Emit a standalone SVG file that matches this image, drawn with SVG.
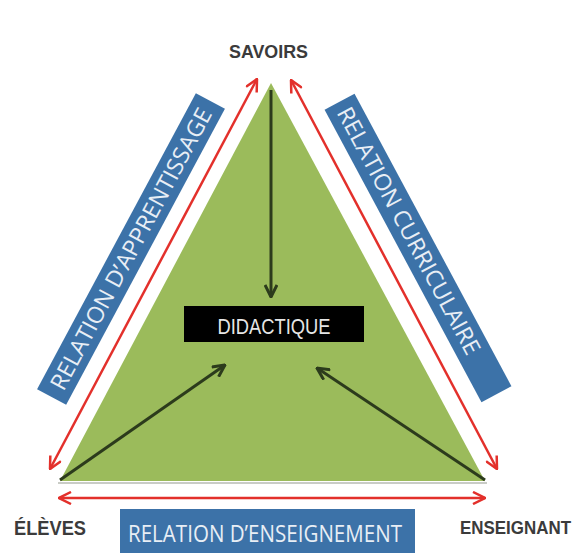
<svg xmlns="http://www.w3.org/2000/svg" width="583" height="553" viewBox="0 0 583 553">
  <style>
    .vertex { font-family: "Liberation Sans", Arial, sans-serif; font-weight: bold; fill: #3b3b3b; }
    .rel-box { fill: #3c72a8; }
    .rel-text { font-family: "Open Sans", "Liberation Sans", sans-serif; fill: #e8eef5; font-size: 23px; }
    .red { stroke: #e3302b; stroke-width: 2.5; fill: none; }
    .dark { stroke: #2c3b1c; stroke-width: 3; fill: none; }
  </style>
  <defs>
    <marker id="ra" viewBox="0 0 14 14" refX="13" refY="7" markerWidth="14" markerHeight="14" orient="auto-start-reverse" markerUnits="userSpaceOnUse">
      <path d="M1,1 L13,7 L1,13" fill="none" stroke="#e3302b" stroke-width="2.5"/>
    </marker>
    <marker id="da" viewBox="0 0 14 14" refX="13" refY="7" markerWidth="14" markerHeight="14" orient="auto" markerUnits="userSpaceOnUse">
      <path d="M1,1 L13,7 L1,13" fill="none" stroke="#2c3b1c" stroke-width="3"/>
    </marker>
  </defs>
  <rect width="583" height="553" fill="#ffffff"/>

  <g id="triangle">
    <line x1="58" y1="483" x2="487" y2="483" stroke="#c9ccc6" stroke-width="2"/>
    <polygon points="271,83 60,481 485,481" fill="#9bbb5b"/>
  </g>

  <g id="didactique">
    <rect x="184" y="306" width="180" height="36" fill="#000000"/>
    <text x="274" y="334" font-family="Liberation Sans, Arial, sans-serif" font-size="22" fill="#e6e6e6" text-anchor="middle" textLength="113" lengthAdjust="spacingAndGlyphs">DIDACTIQUE</text>
  </g>

  <g id="savoirs">
    <text class="vertex" x="229" y="58" font-size="19" textLength="79" lengthAdjust="spacingAndGlyphs">SAVOIRS</text>
  </g>
  <g id="eleves">
    <text class="vertex" x="14" y="535" font-size="20" textLength="72" lengthAdjust="spacingAndGlyphs">ÉLÈVES</text>
  </g>
  <g id="enseignant">
    <text class="vertex" x="460" y="534" font-size="18" textLength="111" lengthAdjust="spacingAndGlyphs">ENSEIGNANT</text>
  </g>

  <g id="relation-apprentissage" transform="translate(131,249) rotate(-61.8)">
    <rect class="rel-box" x="-168" y="-16.5" width="336" height="33"/>
    <text class="rel-text" x="0" y="8" text-anchor="middle" textLength="316" lengthAdjust="spacingAndGlyphs">RELATION D’APPRENTISSAGE</text>
  </g>
  <g id="relation-curriculaire" transform="translate(418,248) rotate(61.8)">
    <rect class="rel-box" x="-166" y="-17" width="332" height="34"/>
    <text class="rel-text" x="-158" y="8" textLength="277" lengthAdjust="spacingAndGlyphs">RELATION CURRICULAIRE</text>
  </g>
  <g id="relation-enseignement">
    <rect class="rel-box" x="120" y="509" width="295" height="44"/>
    <text class="rel-text" x="128" y="542" font-size="26" textLength="274" lengthAdjust="spacingAndGlyphs">RELATION D’ENSEIGNEMENT</text>
  </g>

  <g id="connectors">
    <line class="red" x1="50" y1="469" x2="257" y2="79" marker-start="url(#ra)" marker-end="url(#ra)"/>
    <line class="red" x1="291" y1="80" x2="497" y2="469" marker-start="url(#ra)" marker-end="url(#ra)"/>
    <line class="red" x1="59" y1="498" x2="485" y2="498" marker-start="url(#ra)" marker-end="url(#ra)"/>
    <line class="dark" x1="271" y1="90" x2="271" y2="297" marker-end="url(#da)"/>
    <line class="dark" x1="60" y1="480" x2="225" y2="365" marker-end="url(#da)"/>
    <line class="dark" x1="485" y1="480" x2="317" y2="368" marker-end="url(#da)"/>
  </g>
</svg>
